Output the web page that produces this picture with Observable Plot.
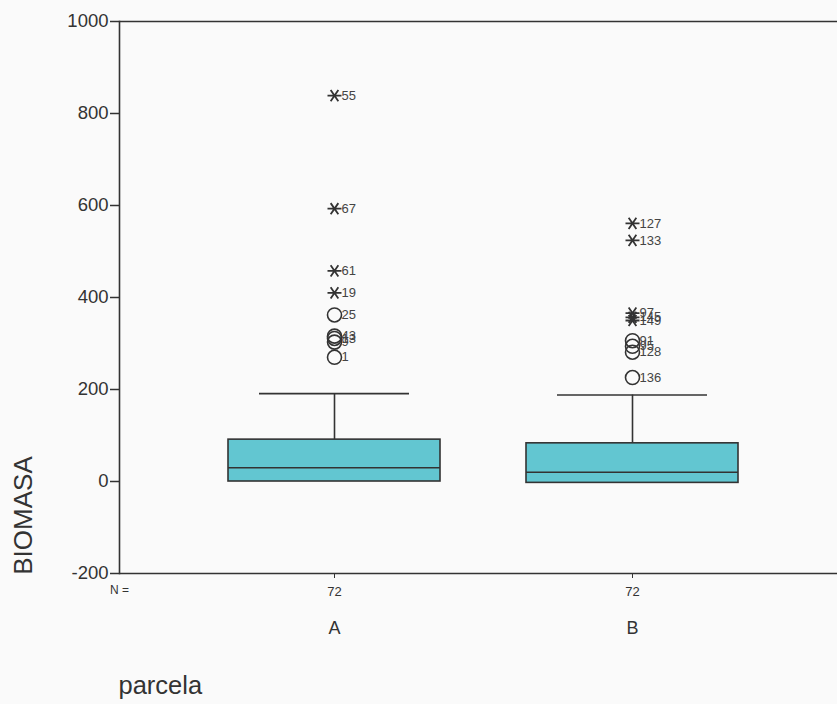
<!DOCTYPE html>
<html>
<head>
<meta charset="utf-8">
<script src="https://cdn.jsdelivr.net/npm/d3@7"></script>
<script src="https://cdn.jsdelivr.net/npm/@observablehq/plot@0.6"></script>
<style>
  html, body { margin: 0; padding: 0; background: #fafafa; overflow: hidden; }
  #chart svg { display: block; }
</style>
</head>
<body>
<div id="chart"></div>
<script>
// Box summaries per plot (parcela)
const parcela = ["A", "B"];
const nCount = [72, 72];
const q1 = [0, -3];
const median = [30, 20];
const q3 = [91, 83];
const whiskerHigh = [191, 188];

// Outlying cases: group, value, case number, kind ("extreme" = asterisk, "outlier" = circle)
const outGroup = ["A", "A", "A", "A", "A", "A", "A", "A", "A",
                  "B", "B", "B", "B", "B", "B", "B", "B", "B"];
const outValue = [839, 593, 458, 410, 362, 316, 311, 303, 270,
                  561, 524, 366, 357, 350, 306, 294, 281, 226];
const outCase  = ["55", "67", "61", "19", "25", "43", "13", "9", "1",
                  "127", "133", "97", "145", "149", "91", "95", "128", "136"];
const outKind  = ["extreme", "extreme", "extreme", "extreme", "outlier", "outlier", "outlier", "outlier", "outlier",
                  "extreme", "extreme", "extreme", "extreme", "extreme", "outlier", "outlier", "outlier", "outlier"];

const yTicks = [-200, 0, 200, 400, 600, 800, 1000];

const boxes = parcela.map((p, i) => ({
  parcela: p, n: nCount[i], q1: q1[i], median: median[i], q3: q3[i], hi: whiskerHigh[i]
}));
const nBy = Object.fromEntries(boxes.map(d => [d.parcela, d.n]));
const cases = outValue.map((v, i) => ({ parcela: outGroup[i], value: v, label: outCase[i], kind: outKind[i] }));

// SPSS-style asterisk: a horizontal bar crossed by two slanted strokes
const starSymbol = {
  draw(ctx, size) {
    const r = Math.sqrt(size / Math.PI);
    ctx.moveTo(-r, 0); ctx.lineTo(r, 0);
    ctx.moveTo(-0.55 * r, -0.8 * r); ctx.lineTo(0.55 * r, 0.8 * r);
    ctx.moveTo(-0.55 * r, 0.8 * r); ctx.lineTo(0.55 * r, -0.8 * r);
  }
};

const ink = "#333";
const font = "'Liberation Sans', Arial, sans-serif";

const chart = Plot.plot({
  width: 837,
  height: 704,
  marginTop: 21,
  marginBottom: 131,
  marginLeft: 119,
  marginRight: -10,
  style: { background: "#fafafa", fontFamily: font, color: ink },
  x: { domain: parcela, paddingInner: 0.288, paddingOuter: 0.363, axis: null },
  y: { domain: [-200, 1000], axis: null },
  marks: [
    // frame: top and bottom edges, left axis line
    Plot.ruleY([-200, 1000], { stroke: ink, strokeWidth: 1.6 }),
    Plot.frame({ anchor: "left", stroke: ink, strokeWidth: 1.6 }),
    Plot.axisY({ ticks: yTicks, tickFormat: d => String(d), tickSize: 9, tickPadding: 2, fontSize: 18.5, label: null, stroke: ink, strokeWidth: 1.5 }),
    Plot.axisX({ tickSize: 5, tickPadding: 8, fontSize: 13, tickFormat: d => String(nBy[d]), label: null, stroke: ink }),
    Plot.axisX({ tickSize: 0, tickPadding: 48, fontSize: 18, label: null }),
    Plot.text(["N ="], { frameAnchor: "bottom-left", dy: 20, textAnchor: "middle", fontSize: 12, fill: ink }),
    Plot.text(["BIOMASA"], { frameAnchor: "bottom-left", dx: -88, dy: -58, rotate: -90, textAnchor: "middle", fontSize: 26, fill: ink }),
    Plot.text(["parcela"], { frameAnchor: "bottom-left", dx: -1, dy: 120, textAnchor: "start", fontSize: 25.5, fill: ink }),

    // whiskers and caps
    Plot.ruleX(boxes, { x: "parcela", y1: "q3", y2: "hi", stroke: ink, strokeWidth: 1.6 }),
    Plot.tickY(boxes, { x: "parcela", y: "hi", insetLeft: 31, insetRight: 31, stroke: ink, strokeWidth: 1.6 }),
    // boxes and medians
    Plot.barY(boxes, { x: "parcela", y1: "q1", y2: "q3", fill: "#62c6d1", stroke: ink, strokeWidth: 1.6 }),
    Plot.tickY(boxes, { x: "parcela", y: "median", stroke: ink, strokeWidth: 1.6 }),

    // outlying cases
    Plot.dot(cases.filter(d => d.kind === "outlier"), { x: "parcela", y: "value", r: 7, symbol: "circle", fill: "none", stroke: ink, strokeWidth: 1.6 }),
    Plot.dot(cases.filter(d => d.kind === "extreme"), { x: "parcela", y: "value", r: 7, symbol: starSymbol, fill: "none", stroke: ink, strokeWidth: 1.8 }),
    Plot.text(cases, { x: "parcela", y: "value", text: "label", dx: 7, textAnchor: "start", fontSize: 13, fill: "#444" })
  ]
});

document.getElementById("chart").appendChild(chart);
</script>
</body>
</html>
